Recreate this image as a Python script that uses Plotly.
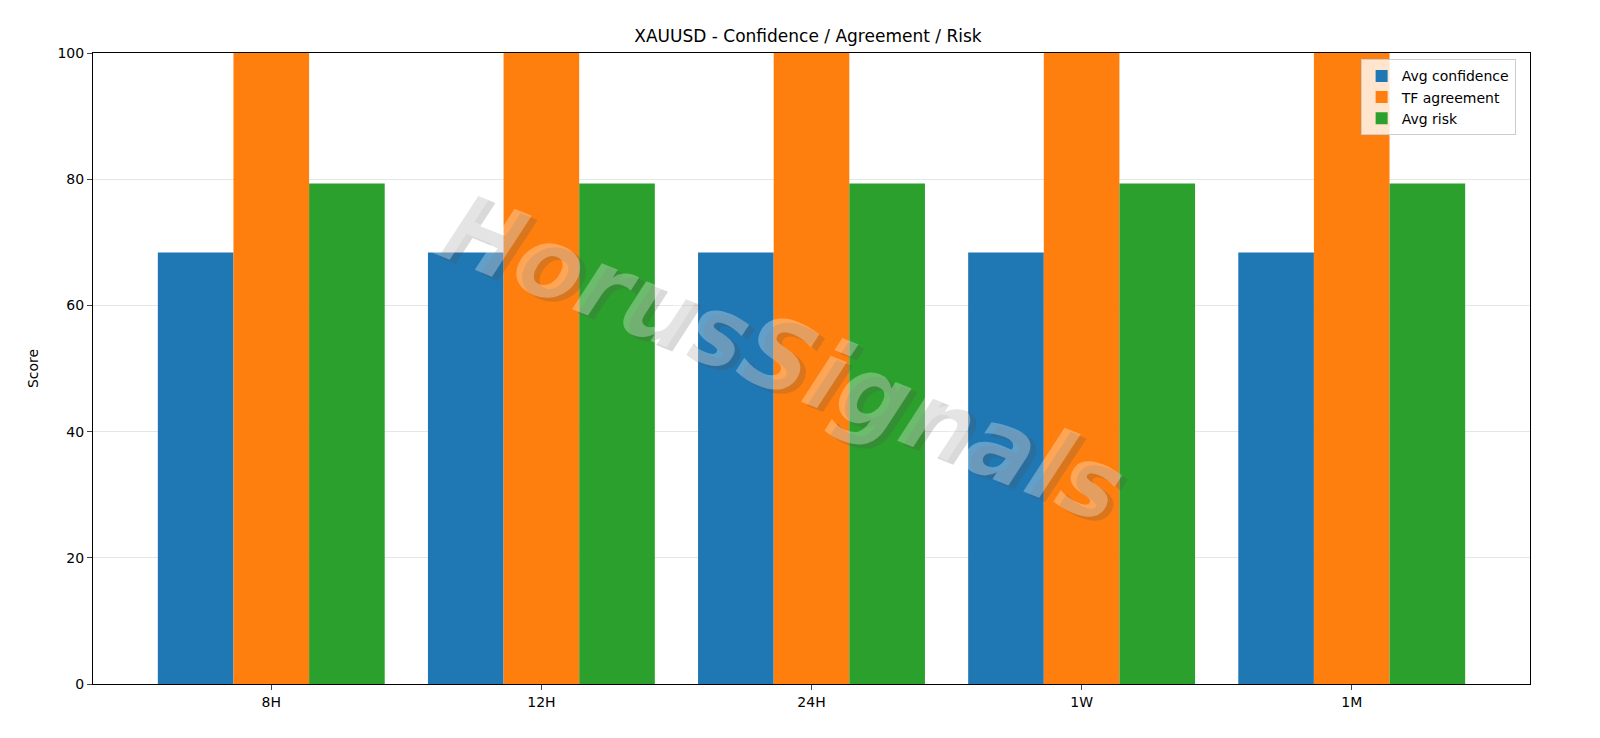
import plotly.graph_objects as go

categories = ["8H", "12H", "24H", "1W", "1M"]
avg_confidence = [68.4, 68.4, 68.4, 68.4, 68.4]
tf_agreement = [100, 100, 100, 100, 100]
avg_risk = [79.3, 79.3, 79.3, 79.3, 79.3]

fig = go.Figure()
fig.add_bar(x=categories, y=avg_confidence, name="Avg confidence", marker_color="#1f77b4", marker_line_width=0)
fig.add_bar(x=categories, y=tf_agreement, name="TF agreement", marker_color="#ff7f0e", marker_line_width=0)
fig.add_bar(x=categories, y=avg_risk, name="Avg risk", marker_color="#2ca02c", marker_line_width=0)

font = "DejaVu Sans"
fig.update_layout(
    width=1600, height=738, barmode="group", bargap=0.16, bargroupgap=0,
    paper_bgcolor="white", plot_bgcolor="white",
    margin=dict(l=85, r=78, t=45, b=62),
    font=dict(family=font, size=14, color="black"),
    title=dict(text="XAUUSD - Confidence / Agreement / Risk", x=0.5, xanchor="center", y=0.962, yanchor="middle", font=dict(size=17)),
    legend=dict(x=0.99, y=0.99, xanchor="right", yanchor="top", bgcolor="rgba(255,255,255,0.8)",
                bordercolor="#cccccc", borderwidth=1, font=dict(size=14)),
    xaxis=dict(range=[-0.66, 4.66], showline=True, mirror=True, linecolor="black", ticks="outside", ticklen=5, showgrid=False),
    yaxis=dict(range=[0, 100], showline=True, mirror=True, linecolor="black", ticks="outside", ticklen=5,
               showgrid=True, gridcolor="#e6e6e6", dtick=20, title=dict(text="Score", font=dict(size=14))),
)
fig.add_annotation(xref="paper", yref="paper", x=0.483, y=0.512, text="<b><i>HorusSignals</i></b>", showarrow=False,
                   textangle=22, font=dict(size=98, color="rgba(80,80,80,0.22)", family=font))
fig.add_annotation(xref="paper", yref="paper", x=0.479, y=0.518, text="<b><i>HorusSignals</i></b>", showarrow=False,
                   textangle=22, font=dict(size=98, color="rgba(255,255,255,0.3)", family=font))
fig.write_html("out.html")
